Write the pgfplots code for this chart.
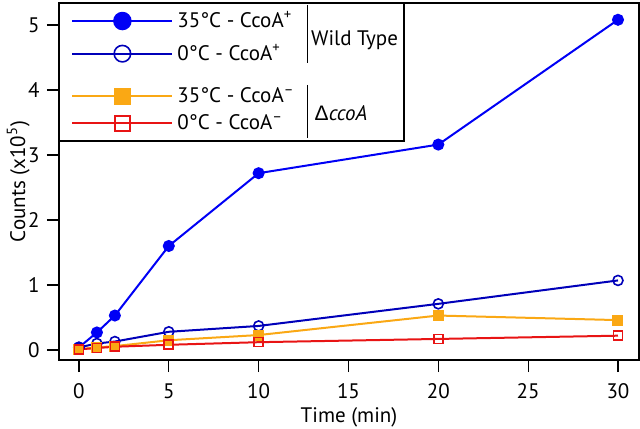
\documentclass[border=0pt]{standalone}
\usepackage{pgfplots}
\pgfplotsset{compat=1.18}
\usepackage{fontspec}
\setmainfont{PT Sans}
\newfontfamily\grk{Liberation Sans}
\definecolor{cblue}{RGB}{0,0,245}
\definecolor{cnavy}{RGB}{0,0,185}
\definecolor{corange}{RGB}{250,168,20}
\definecolor{cred}{RGB}{232,20,20}
\pgfplotsset{limg/.style={legend image code/.code={%
  \draw[mark repeat=2,mark phase=2,##1,every mark/.append style={scale=1.65}] plot coordinates {(0pt,0pt)(25pt,0pt)(50pt,0pt)};
  \path[draw=none,fill=none] (0pt,#1);}},
  limg/.default=0pt}
\begin{document}
\fontsize{10.5}{12}\selectfont
\begin{tikzpicture}
\useasboundingbox (-29.5pt,-34pt) rectangle (290.5pt,180pt);
\begin{axis}[
  at={(0,0)}, anchor=south west, scale only axis,
  width=290pt, height=178.5pt,
  xmin=-1.11, xmax=31.17, ymin=-0.154, ymax=5.338,
  xtick={0,5,...,30}, ytick={0,1,2,3,4,5},
  tick align=outside, major tick length=6pt,
  xtick pos=bottom, ytick pos=left,
  tick style={black, line width=0.6pt},
  axis line style={black, line width=0.6pt},
  /pgf/number format/assume math mode=true,
  ticklabel style={font=\fontsize{10.5}{12}\selectfont},
  xticklabel style={yshift=-2pt},
  label style={font=\fontsize{10.5}{12}\selectfont},
  xlabel={Time (min)}, ylabel={Counts (x10\textsuperscript{5})},
  xlabel style={at={(axis description cs:0.5,0)}, anchor=center, yshift=-28.5pt},
  ylabel shift=-8pt,
  limg,
  legend cell align=left,
  legend style={at={(rel axis cs:0,1)}, anchor=north west, draw=none, fill=none,
    xshift=3pt, font=\fontsize{10.5}{12}\selectfont, row sep=0.5pt},
]
\addplot[cblue, line width=1pt, mark=*, mark size=2.5pt, limg=-9pt] coordinates {
 (0,0.04)(1,0.27)(2,0.53)(5,1.60)(10,2.72)(20,3.16)(30,5.08)};
\addlegendentry{35°C - CcoA\textsuperscript{+}}
\addplot[cnavy, line width=1pt, mark=o, mark size=2.5pt, mark options={fill=white, line width=0.8pt}] coordinates {
 (0,0.04)(1,0.10)(2,0.13)(5,0.28)(10,0.37)(20,0.71)(30,1.07)};
\addlegendentry{0°C - CcoA\textsuperscript{+}}
\addlegendimage{draw=none, fill=none, mark=none, legend image code/.code={\path[draw=none,fill=none] (0pt,3.5pt) (1pt,-3.5pt);}}
\addlegendentry{}
\addplot[corange, line width=1pt, mark=square*, mark size=2.25pt] coordinates {
 (0,0.01)(1,0.04)(2,0.06)(5,0.15)(10,0.23)(20,0.53)(30,0.46)};
\addlegendentry{35°C - CcoA\textsuperscript{–}}
\addplot[cred, line width=1pt, mark=square, mark size=2.25pt, mark options={fill=white, line width=0.8pt}] coordinates {
 (0,0.01)(1,0.03)(2,0.05)(5,0.08)(10,0.12)(20,0.17)(30,0.22)};
\addlegendentry{0°C - CcoA\textsuperscript{–}}
\draw[black, line width=0.6pt, fill=white] (axis cs:-1.11,5.338) rectangle (axis cs:18.09,3.215);
\draw[black, line width=0.6pt] (axis cs:12.7,5.31) -- (axis cs:12.7,4.415);
\draw[black, line width=0.6pt] (axis cs:12.7,4.077) -- (axis cs:12.7,3.26);
\node[anchor=west, inner sep=0pt, font=\fontsize{10.5}{12}\selectfont] at (axis cs:12.9,4.77) {Wild Type};
\node[anchor=west, inner sep=0pt, font=\fontsize{10.5}{12}\selectfont] at (axis cs:13.1,3.646) {{\grk Δ}\textit{ccoA}};
\end{axis}
\end{tikzpicture}
\end{document}
